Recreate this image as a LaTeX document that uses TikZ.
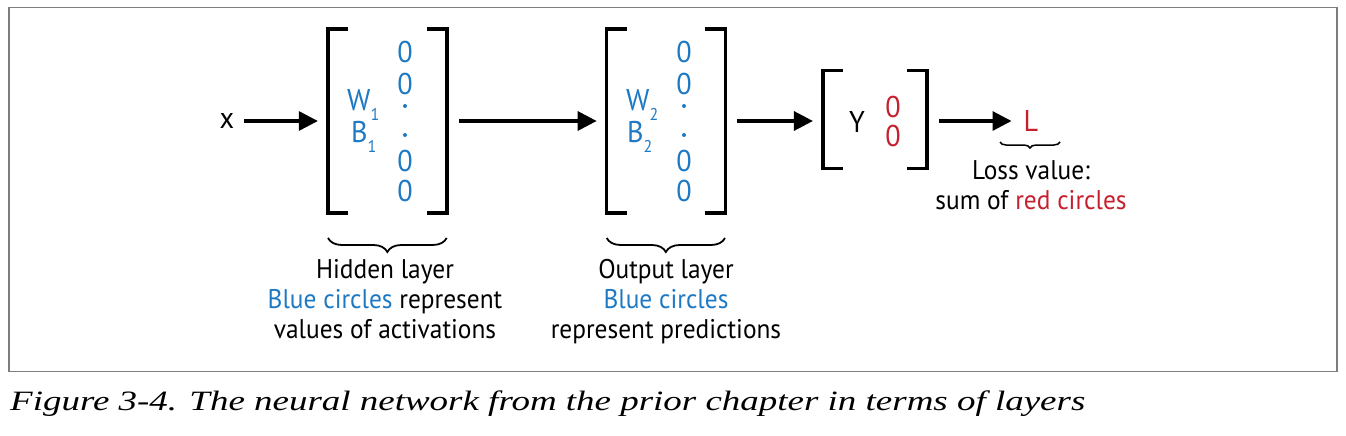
\documentclass[tikz,border=0pt]{standalone}
\usepackage{fontspec}
\setsansfont[FakeStretch=0.94]{PT Sans}
\newfontfamily\capfont{Liberation Serif}
\usetikzlibrary{arrows.meta, decorations.pathreplacing}

\definecolor{layerblue}{RGB}{30,121,196}
\definecolor{lossred}{RGB}{198,32,46}
\definecolor{framegray}{RGB}{125,125,125}

\newcommand\lowidx[1]{\lower 10pt\hbox{\fontsize{17pt}{17pt}\selectfont #1}}

\tikzset{
	every node/.style = {inner sep = 0pt},
	arrowline/.style = {-{Triangle[length = 19pt, width = 19pt]}, line width = 3.2pt, shorten <= 12pt, shorten >= 10pt},
	bracketline/.style = {line width = 3.6pt},
	bracebox/.style = {minimum width = #1, minimum height = 183pt},
	bigtext/.style = {font = \sffamily\fontsize{30pt}{30pt}\selectfont},
	labeltext/.style = {font = \sffamily\fontsize{27pt}{30pt}\selectfont, align = center},
	layerbrace/.style = {decorate, decoration = {brace, amplitude = #1}, line width = 1.8pt}
}

\begin{document}
\begin{tikzpicture}[yscale = -1]
	\useasboundingbox (0, 0) rectangle (1346pt, 436pt);

	% Rahmen
	\draw [framegray, line width = 1.5pt] (9pt, 7.5pt) rectangle (1337pt, 371.5pt);

	% Schichten
	\node [bracebox = 118.5pt] (hidden) at (387.3pt, 121pt) {};
	\node [bracebox = 118.3pt] (output) at (666pt, 121pt) {};
	\node [bracebox = 103.7pt, minimum height = 97.3pt] (target) at (875pt, 119.5pt) {};

	\foreach \b in {hidden, output, target} {
		\draw [bracketline] ([xshift = 20pt]\b.north west) -| (\b.south west) -- ++(20pt, 0);
		\draw [bracketline] ([xshift = -20pt]\b.north east) -| (\b.south east) -- ++(-20pt, 0);
	}

	% Eingang und Verlust
	\node [bigtext] (x) at (227pt, 121pt) {x};
	\node [bigtext, anchor = base, text = lossred] (loss) at (1031pt, 131pt) {L};

	% Inhalt der Schichten
	\begin{scope}[every node/.append style = {bigtext, text = layerblue}]
		\node [anchor = base west] (w1) at (347pt, 110pt) {W\lowidx{1}};
		\node [anchor = base west] (b1) at (351pt, 142pt) {B\lowidx{1}};
		\node [anchor = base west] (w2) at (626pt, 110pt) {W\lowidx{2}};
		\node [anchor = base west] (b2) at (627pt, 142pt) {B\lowidx{2}};
		\foreach \x in {405pt, 684pt} {
			\foreach \y in {63pt, 94pt, 171pt, 201pt} {
				\node [anchor = base] at (\x, \y) {0};
			}
			\foreach \y in {106pt, 135pt} {
				\fill [layerblue] (\x, \y) circle (2pt);
			}
		}
	\end{scope}

	% Inhalt Zielwerte
	\node [bigtext, anchor = base] (y) at (857pt, 132pt) {Y};
	\node [bigtext, anchor = base, text = lossred] (y1) at (893pt, 117pt) {0};
	\node [bigtext, anchor = base, text = lossred] (y2) at (893pt, 146pt) {0};

	% Pfeile
	\draw [arrowline, shorten <= 10pt] (x) -- (x -| hidden.west);
	\draw [arrowline] (hidden.east |- x) -- (x -| output.west);
	\draw [arrowline] (output.east |- x) -- (x -| target.west);
	\draw [arrowline, shorten >= 12pt] (target.east |- x) -- (x -| loss.west);

	% Klammern
	\draw [layerbrace = 14pt] (446.7pt, 238pt) -- (328pt, 238pt);
	\draw [layerbrace = 14pt] (725pt, 238pt) -- (606.7pt, 238pt);
	\draw [layerbrace = 6pt, line width = 1.5pt] (1060pt, 142pt) -- (1000pt, 142pt);

	% Beschriftungen
	\node [labeltext, anchor = north] (hiddenlabel) at (385pt, 259pt) {Hidden layer\\ \textcolor{layerblue}{Blue circles} represent\\ values of activations};
	\node [labeltext, anchor = north] (outputlabel) at (666pt, 259pt) {Output layer\\ \textcolor{layerblue}{Blue circles}\\ represent predictions};
	\node [labeltext, anchor = north] (losslabel) at (1031pt, 160pt) {Loss value:\\ sum of \textcolor{lossred}{red circles}};

	% Bildunterschrift
	\node [anchor = base west, font = \capfont\itshape\fontsize{28pt}{30pt}\selectfont] (caption) at (10pt, 410.5pt) {\scalebox{1.32}[1]{Figure 3-4. The neural network from the prior chapter in terms of layers}};
\end{tikzpicture}
\end{document}
